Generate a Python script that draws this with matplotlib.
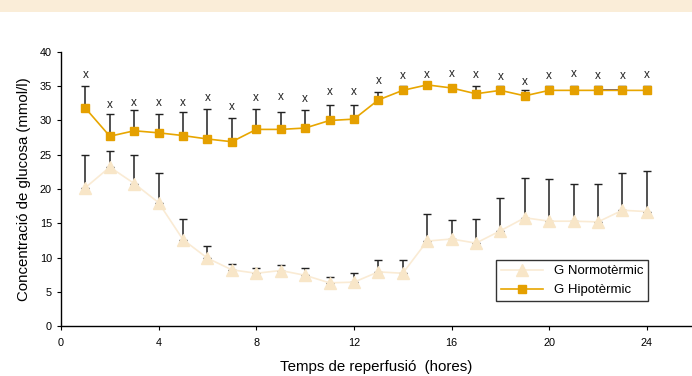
import matplotlib
matplotlib.use("Agg")
import matplotlib.pyplot as plt
import numpy as np
from matplotlib.patches import Rectangle

plt.rcParams['font.family'] = ['Liberation Sans', 'DejaVu Sans']

hours = list(range(1, 25))
normo = [20.2, 23.2, 20.8, 18.0, 12.6, 9.9, 8.2, 7.7, 8.1, 7.4, 6.3, 6.4,
         7.9, 7.7, 12.4, 12.7, 12.1, 13.9, 15.8, 15.3, 15.3, 15.2, 16.9, 16.7]
normo_top = [24.9, 25.5, 25.0, 22.4, 15.6, 11.7, 9.1, 8.4, 8.9, 8.4, 7.2, 7.7,
             9.6, 9.7, 16.4, 15.5, 15.6, 18.7, 21.6, 21.4, 20.8, 20.8, 22.3, 22.6]
hipo = [31.8, 27.7, 28.5, 28.2, 27.8, 27.3, 26.9, 28.7, 28.7, 28.9, 30.0, 30.2,
        33.0, 34.4, 35.2, 34.75, 33.9, 34.4, 33.6, 34.4, 34.4, 34.4, 34.4, 34.4]
hipo_top = [35.1, 30.9, 31.5, 31.0, 31.2, 31.7, 30.4, 31.7, 31.3, 31.6, 32.3, 32.2,
            34.2, 35.1, 35.2, 34.75, 35.1, 35.1, 34.5, 35.1, 35.1, 35.1, 35.1, 35.1]
sig_y = [36.7, 32.2, 32.6, 32.6, 32.6, 33.3, 31.9, 33.3, 33.4, 33.2, 34.1, 34.1,
         35.8, 36.5, 36.7, 36.8, 36.7, 36.4, 35.6, 36.5, 36.8, 36.5, 36.5, 36.7]
xticks = [0, 4, 8, 12, 16, 20, 24]
yticks = [0, 5, 10, 15, 20, 25, 30, 35, 40]

fig = plt.figure(figsize=(6.92, 3.76), dpi=100)
fig.patches.append(Rectangle((0, 1 - 12/376), 1, 12/376, transform=fig.transFigure,
                             facecolor='#FAEDD8', edgecolor='none', zorder=0))
ax = fig.add_axes([61/692, 1 - 326/376, 1 - 61/692, 274/376])

h = np.array(hours)
n = np.array(normo); nt = np.array(normo_top)
p = np.array(hipo); pt = np.array(hipo_top)

ax.errorbar(h, n, yerr=[np.zeros_like(n), nt - n], fmt='none', ecolor='#222222',
            elinewidth=1.1, capsize=2.8, capthick=1.0, zorder=2)
ax.errorbar(h, p, yerr=[np.zeros_like(p), pt - p], fmt='none', ecolor='#222222',
            elinewidth=1.1, capsize=2.8, capthick=1.0, zorder=2)

ax.plot(h, n, color='#FAEBD4', lw=1.2, marker='^', markersize=9,
        markerfacecolor='#F8E6C8', markeredgecolor='#F8E6C8', zorder=3,
        label='G Normotèrmic')
ax.plot(h, p, color='#E8A600', lw=1.2, marker='s', markersize=5.5,
        markerfacecolor='#E5A000', markeredgecolor='#E5A000', zorder=4,
        label='G Hipotèrmic')
ax.plot(h[21:23], p[21:23], color='#2A2A9A', lw=1.2, zorder=3.5)

for x, y in zip(hours, sig_y):
    ax.text(x, y, 'x', ha='center', va='center', fontsize=8.5, color='#222222')

ax.set_xlim(0, 25.85)
ax.set_ylim(0, 40)
ax.set_xticks(xticks)
ax.set_yticks(yticks)
ax.tick_params(axis='both', labelsize=7.8, length=3, width=0.8, direction='out', colors='black')
ax.tick_params(axis='x', pad=6)
for s in ['top', 'right']:
    ax.spines[s].set_visible(False)
for s in ['left', 'bottom']:
    ax.spines[s].set_linewidth(1.0)

ax.set_ylabel('Concentració de glucosa (mmol/l)', fontsize=10.8, labelpad=6)
ax.set_xlabel('Temps de reperfusió  (hores)', fontsize=10.8, labelpad=8)

leg = ax.legend(loc='lower right', fontsize=9.5, frameon=True, fancybox=False,
                edgecolor='black', handlelength=3.2, borderpad=0.4, labelspacing=0.5)
leg.set_bbox_to_anchor((655/692, (376 - 308)/376), transform=fig.transFigure)
leg.get_frame().set_linewidth(1.0)

fig.savefig('out.png', dpi=100)
